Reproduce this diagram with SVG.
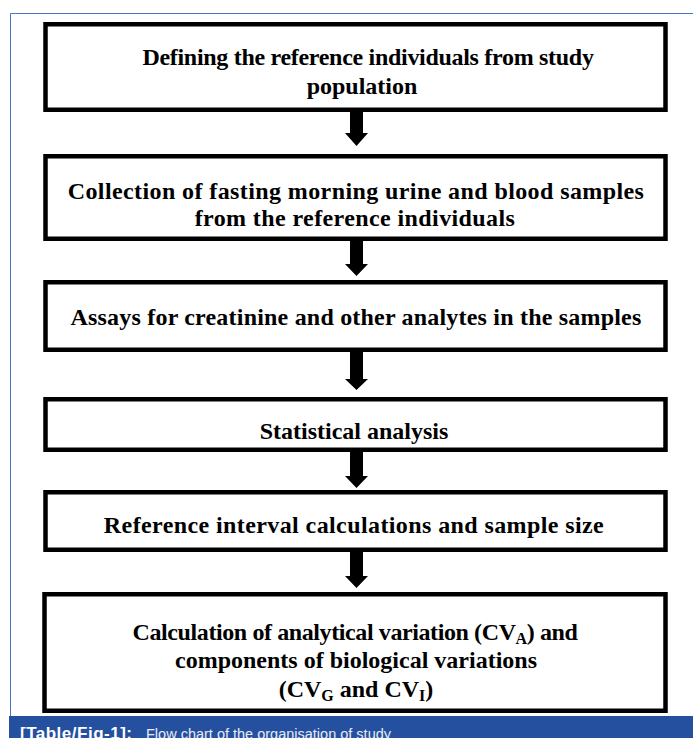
<svg xmlns="http://www.w3.org/2000/svg" width="693" height="738" viewBox="0 0 693 738">
<style>
.box{fill:#fff;stroke:#000;stroke-width:4.5}
.t{font-family:"Liberation Serif","Times New Roman",serif;font-weight:bold;font-size:24px;fill:#000;text-anchor:middle}
.sub{font-size:16px}
.arr{fill:#000}
.cap1{font-family:"Liberation Sans",Arial,sans-serif;font-weight:bold;font-size:17px;letter-spacing:0.5px;fill:#fff}
.cap2{font-family:"Liberation Sans",Arial,sans-serif;font-size:14.5px;fill:#e6ebf5}
</style>
<rect x="0" y="0" width="693" height="738" fill="#fff"/>
<path d="M10.5 716 V13.5 H693" fill="none" stroke="#4a74c2" stroke-width="1"/>
<g id="n1">
<rect class="box" x="45.5" y="24.25" width="620" height="85.5"/>
<text class="t" x="368" y="65" letter-spacing="-0.3">Defining the reference individuals from study</text>
<text class="t" x="362" y="94">population</text>
</g>
<g id="n2">
<rect class="box" x="45.5" y="156.25" width="620" height="82.5"/>
<text class="t" x="356" y="199" letter-spacing="0.4">Collection of fasting morning urine and blood samples</text>
<text class="t" x="355" y="226" letter-spacing="0.4">from the reference individuals</text>
</g>
<g id="n3">
<rect class="box" x="45.5" y="282.25" width="620" height="67.5"/>
<text class="t" x="356" y="325" letter-spacing="0.2">Assays for creatinine and other analytes in the samples</text>
</g>
<g id="n4">
<rect class="box" x="45.5" y="399.25" width="620" height="50.5"/>
<text class="t" x="354" y="439">Statistical analysis</text>
</g>
<g id="n5">
<rect class="box" x="45.5" y="492.25" width="620" height="57.5"/>
<text class="t" x="354" y="533" letter-spacing="0.4">Reference interval calculations and sample size</text>
</g>
<g id="n6">
<rect class="box" x="44.5" y="594.25" width="621" height="116.5"/>
<text class="t" x="355" y="640" letter-spacing="-0.4">Calculation of analytical variation (CV<tspan class="sub" dy="4">A</tspan><tspan dy="-4">) and</tspan></text>
<text class="t" x="356" y="668">components of biological variations</text>
<text class="t" x="356" y="697">(CV<tspan class="sub" dy="4">G</tspan><tspan dy="-4"> and CV</tspan><tspan class="sub" dy="4">I</tspan><tspan dy="-4">)</tspan></text>
</g>
<g id="connectors">
<polygon class="arr" points="350,112 363,112 363,133 368,133 356.5,146 345,133 350,133"/>
<polygon class="arr" points="350,241 363,241 363,264 368,264 356.5,276 345,264 350,264"/>
<polygon class="arr" points="350,352 363,352 363,379 368,379 356.5,390 345,379 350,379"/>
<polygon class="arr" points="350,452 363,452 363,476 368,476 356.5,488 345,476 350,476"/>
<polygon class="arr" points="350,552 363,552 363,576 368,576 356.5,588 345,576 350,576"/>
</g>
<g id="caption">
<rect x="9" y="716" width="684" height="22" fill="#25509f"/>
<text x="20" y="738.5" class="cap1">[Table/Fig-1]:</text>
<text x="146" y="738.5" class="cap2">Flow chart of the organisation of study</text>
</g>
</svg>
